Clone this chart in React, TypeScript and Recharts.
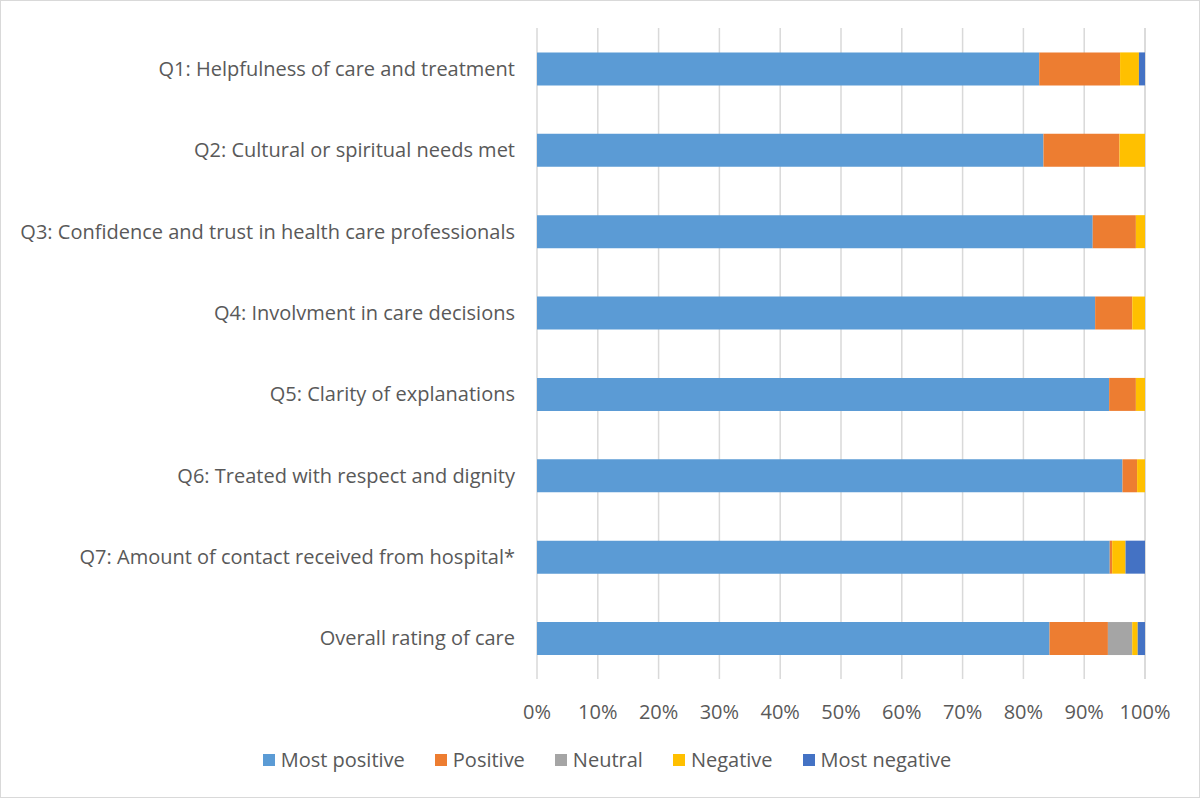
import { BarChart, Bar, XAxis, YAxis, CartesianGrid } from "recharts"

const questions = [
  "Q1: Helpfulness of care and treatment",
  "Q2: Cultural or spiritual needs met",
  "Q3: Confidence and trust in health care professionals",
  "Q4: Involvment in care decisions",
  "Q5: Clarity of explanations",
  "Q6: Treated with respect and dignity",
  "Q7: Amount of contact received from hospital*",
  "Overall rating of care ",
]

const mostPositive = [82.6, 83.3, 91.4, 91.8, 94.1, 96.3, 94.2, 84.3]
const positive = [13.3, 12.5, 7.1, 6.1, 4.4, 2.4, 0.4, 9.6]
const neutral = [0, 0, 0, 0, 0, 0, 0, 4.0]
const negative = [3.1, 4.2, 1.5, 2.1, 1.5, 1.3, 2.2, 0.9]
const mostNegative = [1.0, 0, 0, 0, 0, 0, 3.2, 1.2]

const xTicks = [0, 10, 20, 30, 40, 50, 60, 70, 80, 90, 100]

const series = [
  { key: "mostPositive", name: "Most positive", color: "#5b9bd5" },
  { key: "positive", name: "Positive", color: "#ed7d31" },
  { key: "neutral", name: "Neutral", color: "#a5a5a5" },
  { key: "negative", name: "Negative", color: "#ffc000" },
  { key: "mostNegative", name: "Most negative", color: "#4472c4" },
]

const data = questions.map((q, i) => ({
  question: q,
  mostPositive: mostPositive[i],
  positive: positive[i],
  neutral: neutral[i],
  negative: negative[i],
  mostNegative: mostNegative[i],
}))

const font = "'Open Sans', sans-serif"
const textColor = "#595959"
const fontSize = 20

function LegendBox() {
  return (
    <div
      style={{
        position: "absolute",
        left: 0,
        width: 1200,
        top: 745,
        display: "flex",
        justifyContent: "center",
        gap: 30,
        fontFamily: font,
        fontSize,
        color: textColor,
        paddingLeft: 12,
        boxSizing: "border-box",
      }}
    >
      {series.map((s) => (
        <div key={s.key} style={{ display: "flex", alignItems: "center", gap: 6 }}>
          <span style={{ width: 12, height: 12, background: s.color, display: "inline-block" }} />
          <span>{s.name}</span>
        </div>
      ))}
    </div>
  )
}

export default function App() {
  return (
    <div
      style={{
        position: "absolute",
        left: 0,
        top: 0,
        width: 1200,
        height: 798,
        border: "1px solid #d9d9d9",
        boxSizing: "border-box",
        background: "#fff",
      }}
    >
      <BarChart
        width={1198}
        height={796}
        data={data}
        layout="vertical"
        barCategoryGap="30%"
        margin={{ top: 27, right: 54, bottom: 88, left: 0 }}
      >
        <CartesianGrid horizontal={false} stroke="#d9d9d9" strokeWidth={1.5} />
        <XAxis
          type="number"
          domain={[0, 100]}
          ticks={xTicks}
          tickFormatter={(v: number) => `${v}%`}
          axisLine={false}
          tickLine={false}
          tickMargin={20}
          height={30}
          tick={{ fill: textColor, fontSize, fontFamily: font }}
          interval={0}
        />
        <YAxis
          type="category"
          dataKey="question"
          width={536}
          axisLine={false}
          tickLine={false}
          tickMargin={16}
          interval={0}
          tick={{ fill: textColor, fontSize, fontFamily: font }}
        />
        {series.map((s) => (
          <Bar
            key={s.key}
            dataKey={s.key}
            name={s.name}
            stackId="a"
            fill={s.color}
            isAnimationActive={false}
          />
        ))}
      </BarChart>
      <LegendBox />
    </div>
  )
}
